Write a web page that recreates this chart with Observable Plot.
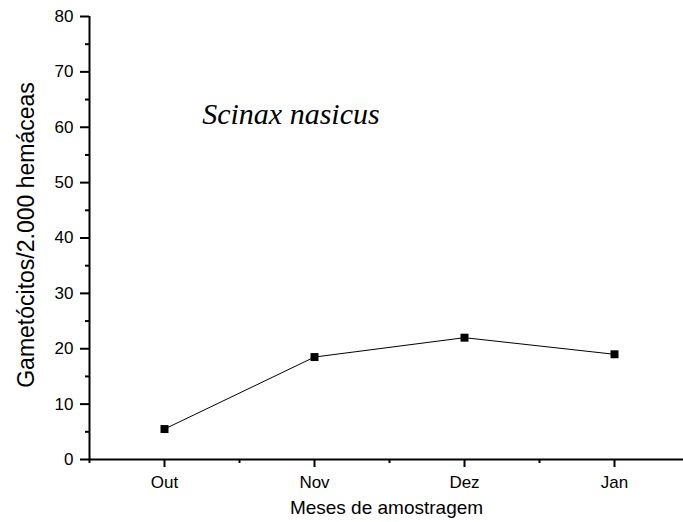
<!DOCTYPE html>
<html>
<head>
<meta charset="utf-8">
<script src="https://cdn.jsdelivr.net/npm/d3@7"></script>
<script src="https://cdn.jsdelivr.net/npm/@observablehq/plot@0.6"></script>
<style>
  html, body { margin: 0; padding: 0; background: white; overflow: hidden; }
</style>
</head>
<body>
<div id="chart"></div>
<script>
const months = ["Out", "Nov", "Dez", "Jan"];
const monthPos = [1, 2, 3, 4];
const values = [5.5, 18.5, 22, 19];
const yMajor = [0, 10, 20, 30, 40, 50, 60, 70, 80];
const yMinor = [5, 15, 25, 35, 45, 55, 65, 75];
const xMinor = [0.5, 1.5, 2.5, 3.5];
const xTitle = "Meses de amostragem";
const yTitle = "Gametócitos/2.000 hemáceas";
const species = "Scinax nasicus";
const speciesPos = {x: 1.843, y: 62.3};

const data = months.map((m, i) => ({month: m, x: monthPos[i], y: values[i]}));

const chart = Plot.plot({
  width: 683,
  height: 522,
  marginLeft: 89,
  marginRight: 0,
  marginTop: 16,
  marginBottom: 63,
  style: {fontFamily: "'Liberation Sans', Arial, sans-serif", fontSize: "17px", color: "black", background: "white"},
  x: {domain: [0.5, 4.46]},
  y: {domain: [0, 80]},
  marks: [
    Plot.axisX(monthPos, {tickSize: 8, tickPadding: 8, strokeWidth: 2, tickFormat: (d) => months[monthPos.indexOf(d)], fontSize: 17, label: null}),
    Plot.axisX(xMinor, {tickSize: 4, strokeWidth: 2, tickFormat: () => "", label: null}),
    Plot.axisY(yMajor, {tickSize: 9, tickPadding: 7, strokeWidth: 2, fontSize: 17, label: null}),
    Plot.axisY(yMinor, {tickSize: 4, strokeWidth: 2, tickFormat: () => "", label: null}),
    Plot.ruleY([0], {strokeWidth: 2}),
    Plot.ruleX([0.5], {strokeWidth: 2}),
    Plot.line(data, {x: "x", y: "y", stroke: "black", strokeWidth: 1}),
    Plot.dot(data, {x: "x", y: "y", symbol: "square", r: 4.5, fill: "black", stroke: "none"}),
    Plot.text([xTitle], {frameAnchor: "bottom", lineAnchor: "middle", dy: 48, fontSize: 19}),
    Plot.text([yTitle], {frameAnchor: "left", textAnchor: "middle", lineAnchor: "middle", dx: -63, dy: -3, rotate: -90, fontSize: 23}),
    Plot.text([species], {x: [speciesPos.x], y: [speciesPos.y], fontSize: 30, fontStyle: "italic", fontFamily: "'Liberation Serif', 'Times New Roman', serif"})
  ]
});
document.getElementById("chart").appendChild(chart);
</script>
</body>
</html>
